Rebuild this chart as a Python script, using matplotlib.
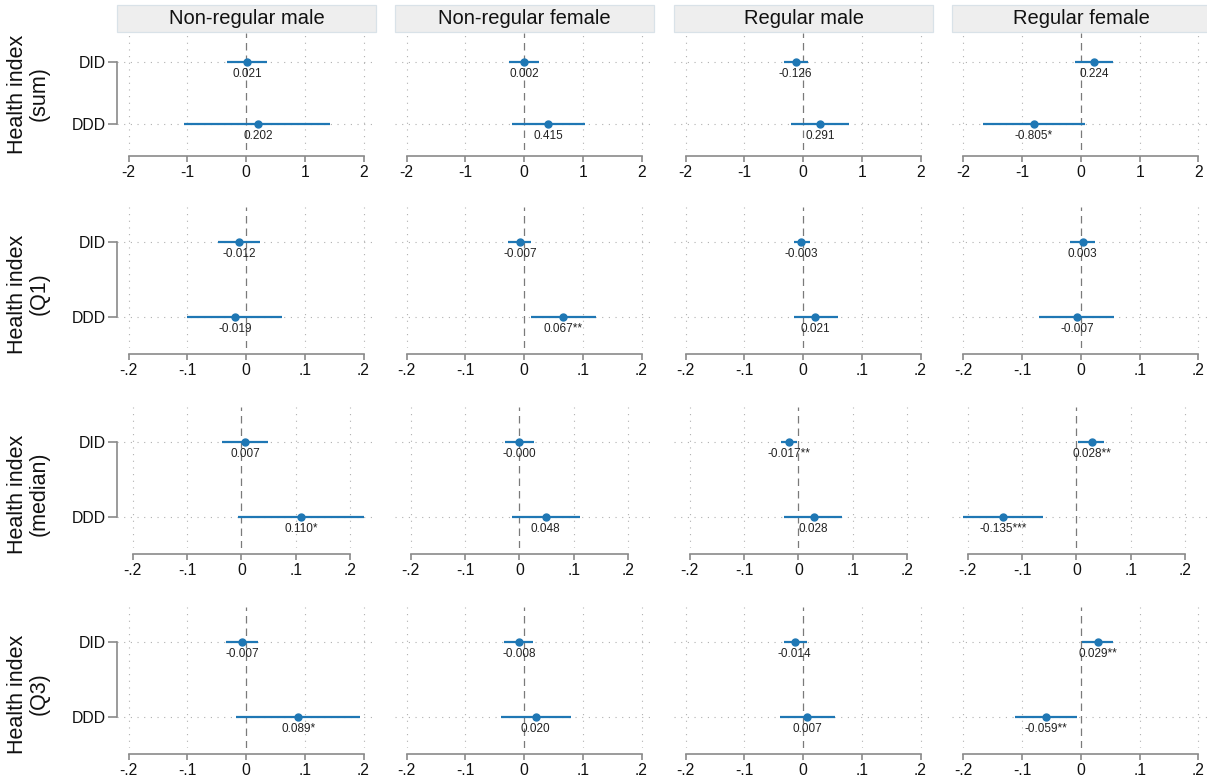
import numpy as np
import matplotlib
matplotlib.use("Agg")
import matplotlib.pyplot as plt
from matplotlib.patches import Rectangle

plt.rcParams['font.family'] = ['Liberation Sans', 'DejaVu Sans']

# ---------------- data ----------------
groups = ["Non-regular male", "Non-regular female", "Regular male", "Regular female"]
outcomes = ["Health index\n(sum)", "Health index\n(Q1)", "Health index\n(median)", "Health index\n(Q3)"]
terms = ["DID", "DDD"]

# estimates [outcome][group] -> (DID, DDD)
est_sum    = [(0.021, 0.202), (0.002, 0.415), (-0.126, 0.291), (0.224, -0.805)]
est_q1     = [(-0.012, -0.019), (-0.007, 0.067), (-0.003, 0.021), (0.003, -0.007)]
est_median = [(0.007, 0.110), (-0.0002, 0.048), (-0.017, 0.028), (0.028, -0.135)]
est_q3     = [(-0.007, 0.089), (-0.008, 0.020), (-0.014, 0.007), (0.029, -0.059)]

# confidence intervals [outcome][group] -> ((DID lo, hi), (DDD lo, hi))
ci_sum = [((-0.32, 0.36), (-1.047, 1.438)),
          ((-0.25, 0.255), (-0.198, 1.045)),
          ((-0.33, 0.09), (-0.20, 0.79)),
          ((-0.097, 0.545), (-1.675, 0.068))]
ci_q1 = [((-0.048, 0.023), (-0.100, 0.0616)),
         ((-0.0267, 0.0124), (0.0113, 0.123)),
         ((-0.016, 0.0113), (-0.016, 0.059)),
         ((-0.018, 0.024), (-0.072, 0.057))]
ci_median = [((-0.0366, 0.049), (-0.006, 0.2245)),
             ((-0.027, 0.0265), (-0.0137, 0.111)),
             ((-0.0315, -0.002), (-0.026, 0.081)),
             ((0.003, 0.051), (-0.2077, -0.0615))]
ci_q3 = [((-0.0337, 0.020), (-0.0167, 0.194)),
         ((-0.0335, 0.016), (-0.040, 0.0805)),
         ((-0.033, 0.0068), (-0.0386, 0.054)),
         ((0.0017, 0.055), (-0.112, -0.0068))]

stars_sum    = [("", ""), ("", ""), ("", ""), ("", "*")]
stars_q1     = [("", ""), ("", "**"), ("", ""), ("", "")]
stars_median = [("", "*"), ("", ""), ("**", ""), ("**", "***")]
stars_q3     = [("", "*"), ("", ""), ("", ""), ("**", "**")]

ticks_sum = [-2, -1, 0, 1, 2]
ticklabels_sum = ["-2", "-1", "0", "1", "2"]
ticks_small = [-0.2, -0.1, 0, 0.1, 0.2]
ticklabels_small = ["-.2", "-.1", "0", ".1", ".2"]

EST = [est_sum, est_q1, est_median, est_q3]
CI = [ci_sum, ci_q1, ci_median, ci_q3]
STARS = [stars_sum, stars_q1, stars_median, stars_q3]
TICKS = [(ticks_sum, ticklabels_sum), (ticks_small, ticklabels_small),
         (ticks_small, ticklabels_small), (ticks_small, ticklabels_small)]

# ---------------- layout (pixels) ----------------
W, H = 1207, 783
fig = plt.figure(figsize=(W / 100, H / 100), dpi=100)

col_left = [117, 395, 674, 952]
col_width = 258
row_top = [33, 207, 407, 607]
row_bottom = [150, 348, 548, 748]
title_y = [94, 294, 494, 694]
title_x = 28

blue = '#1f77b4'
grid_c = '#b0b0b0'
axis_c = '#8a8a8a'

def px2fig(x, y):
    return x / W, 1 - y / H

for r in range(4):
    ticks, tlabels = TICKS[r]
    lo_all = min(min(c[0][0], c[1][0]) for c in CI[r])
    hi_all = max(max(c[0][1], c[1][1]) for c in CI[r])
    lo = min(lo_all, ticks[0])
    hi = max(hi_all, ticks[-1])
    rng = hi - lo
    m = rng * 11.5 / 235
    for c in range(4):
        l = col_left[c]
        t = row_top[r]
        b = row_bottom[r]
        ax = fig.add_axes([l / W, 1 - b / H, col_width / W, (b - t) / H])
        ax.set_xlim(lo - m, hi + m)
        ax.set_ylim(2 + 0.42, 1 - 0.467)
        ax.set_facecolor('none')
        # gridlines
        for tk in ticks:
            if tk != 0:
                ax.axvline(tk, color=grid_c, lw=0.8, ls=(0, (1, 5)), zorder=1)
        for yy in (1, 2):
            ax.axhline(yy, color=grid_c, lw=0.8, ls=(0, (1, 5)), zorder=1)
        ax.axvline(0, color='#7a7a7a', lw=0.9, ls=(0, (6, 4)), zorder=2)
        # estimates
        for k in range(2):
            e = EST[r][c][k]
            clo, chi = CI[r][c][k]
            yk = k + 1
            ax.plot([clo, chi], [yk, yk], color=blue, lw=1.6, solid_capstyle='butt', zorder=3)
            ax.plot([e], [yk], 'o', color=blue, ms=5, zorder=4)
            ax.annotate(f"{e:.3f}" + STARS[r][c][k], (e, yk), xytext=(0, -8.6),
                        textcoords='offset points', ha='center', va='center',
                        fontsize=8.5, color='#222222', zorder=5)
        # axes styling
        for s in ('top', 'right'):
            ax.spines[s].set_visible(False)
        ax.spines['bottom'].set_position(('outward', 4.3))
        ax.spines['bottom'].set_bounds(ticks[0], ticks[-1])
        ax.spines['bottom'].set_color(axis_c)
        ax.spines['bottom'].set_linewidth(1.2)
        ax.set_xticks(ticks)
        ax.set_xticklabels(tlabels)
        ax.tick_params(axis='x', length=4.3, width=1.2, color=axis_c, labelsize=11.3,
                       labelcolor='#111111', pad=2)
        if c == 0:
            ax.spines['left'].set_bounds(1, 2)
            ax.spines['left'].set_color(axis_c)
            ax.spines['left'].set_linewidth(1.2)
            ax.set_yticks([1, 2])
            ax.set_yticklabels(terms)
            ax.tick_params(axis='y', length=6.5, width=1.2, color=axis_c, labelsize=11.3,
                           labelcolor='#111111', pad=1.5)
        else:
            ax.spines['left'].set_visible(False)
            ax.set_yticks([])
    fx, fy = px2fig(title_x, title_y[r])
    fig.text(fx, fy, outcomes[r], rotation=90, ha='center', va='center',
             multialignment='center', fontsize=15.5, color='#111111', linespacing=1.05)

# strips
strip_top, strip_bottom = 5, 32
for c in range(4):
    x0, y0 = px2fig(col_left[c], strip_bottom)
    rect = Rectangle((x0, y0), (col_width + 1) / W, (strip_bottom - strip_top) / H,
                     transform=fig.transFigure, facecolor='#eeeeee', edgecolor='#d9e2e8',
                     lw=0.9, zorder=0)
    fig.patches.append(rect)
    tx, ty = px2fig(col_left[c] + (col_width + 1) / 2, (strip_top + strip_bottom) / 2 + 0.5)
    fig.text(tx, ty, groups[c], ha='center', va='center', fontsize=14.5, color='#111111')

fig.savefig('out.png', dpi=100)
